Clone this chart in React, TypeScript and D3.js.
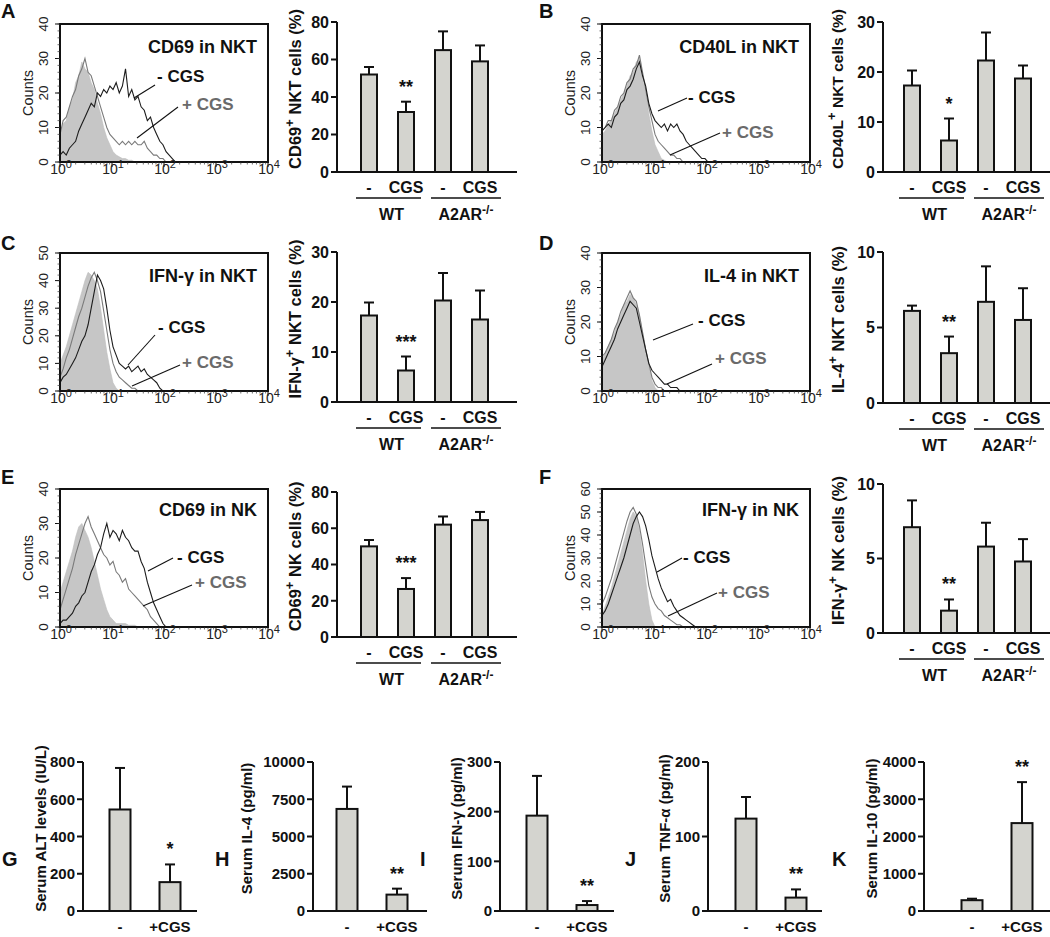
import React from 'react';
import * as d3 from 'd3';

const FONT = "'Liberation Sans', Arial, Helvetica, sans-serif";
const BAR_FILL = '#d4d4cf';
const ISO_FILL = '#c6c6c6';
const POS_COLOR = '#7a7a7a';
const POS_TEXT = '#6a6a6a';

// ---------------- Flow histograms: counts per channel; channel i sits at 10^(i*step) ----------------
const channelStepLog = 0.06;

const cd69NktIso = [8, 11, 12, 16, 18, 23, 25, 29, 27, 26, 23, 21, 17, 14, 10, 7, 5, 3, 2, 1.5, 1, 1, 0.5, 0.5, 0];
const cd69NktNeg = [2, 3, 2, 4, 5, 6, 9, 11, 13, 15, 17, 16, 20, 19, 21, 20, 22, 21, 23, 20, 22, 27, 19, 21, 18, 19, 16, 15, 12, 13, 10, 8, 6, 5, 3, 2, 1, 0];
const cd69NktPos = [8, 12, 13, 16, 19, 21, 25, 27, 30, 26, 25, 22, 19, 16, 13, 10, 8, 7, 6, 5, 6, 5, 6, 5, 6, 5, 5, 6, 4, 3, 2, 2, 1, 1, 0];

const cd40lNktIso = [8, 9, 11, 12, 14, 16, 18, 20, 22, 25, 26, 29, 30, 24, 20, 14, 9, 5, 3, 1, 0.5, 0];
const cd40lNktNeg = [9, 10, 11, 10, 13, 14, 17, 18, 21, 22, 24, 27, 29, 25, 22, 17, 14, 12, 11, 10, 11, 9, 11, 10, 11, 9, 8, 6, 5, 4, 3, 2, 1, 1, 0];
const cd40lNktPos = [9, 10, 12, 12, 15, 16, 19, 20, 23, 24, 27, 28, 31, 26, 21, 16, 12, 8, 6, 5, 4, 3, 2, 2, 1, 1, 0];

const ifngNktIso = [10, 13, 16, 20, 24, 28, 32, 36, 40, 43, 42, 40, 37, 30, 22, 14, 8, 3, 1, 0];
const ifngNktNeg = [3, 5, 6, 8, 10, 12, 15, 18, 20, 24, 30, 36, 42, 40, 37, 30, 22, 16, 13, 10, 9, 8, 9, 7, 8, 9, 7, 8, 6, 5, 4, 3, 1, 0];
const ifngNktPos = [5, 8, 12, 15, 19, 23, 27, 30, 34, 38, 41, 43, 40, 36, 29, 22, 15, 10, 7, 5, 4, 3, 2, 1, 1, 0];

const il4NktIso = [9, 11, 13, 15, 17, 20, 22, 25, 26, 28, 27, 25, 22, 17, 12, 7, 3, 1, 0];
const il4NktNeg = [7, 9, 11, 13, 15, 18, 20, 22, 24, 26, 25, 24, 20, 16, 12, 8, 6, 5, 4, 3, 2, 2, 1, 1, 1, 0];
const il4NktPos = [10, 11, 13, 15, 18, 20, 23, 25, 27, 29, 27, 26, 22, 17, 12, 8, 4, 2, 1, 1, 0];

const cd69NkIso = [10, 13, 16, 19, 22, 26, 29, 30, 28, 26, 23, 19, 15, 11, 8, 5, 3, 2, 1, 1, 1, 1, 0.5, 0.5, 0.5, 0];
const cd69NkNeg = [1, 2, 2, 3, 4, 6, 7, 9, 10, 13, 16, 18, 21, 23, 27, 30, 26, 28, 27, 25, 28, 26, 25, 23, 22, 22, 19, 17, 13, 10, 7, 5, 3, 1, 0];
const cd69NkPos = [5, 8, 11, 14, 17, 21, 24, 27, 30, 32, 29, 27, 25, 23, 21, 20, 18, 19, 16, 15, 13, 14, 11, 10, 9, 8, 7, 6, 5, 3, 2, 1, 0];

const ifngNkIso = [5, 9, 13, 17, 22, 27, 32, 37, 42, 47, 50, 48, 42, 32, 20, 10, 3, 0];
const ifngNkNeg = [5, 7, 10, 14, 18, 22, 26, 30, 35, 40, 45, 48, 50, 48, 44, 38, 31, 26, 21, 17, 14, 11, 12, 9, 7, 5, 4, 3, 2, 1, 0];
const ifngNkPos = [10, 13, 17, 21, 26, 31, 36, 41, 46, 50, 52, 49, 44, 36, 27, 18, 13, 10, 8, 7, 5, 4, 3, 2, 1, 1, 0];

const countTicks40 = [0, 10, 20, 30, 40];
const countTicks50 = [0, 10, 20, 30, 40, 50];
const countTicks60 = [0, 10, 20, 30, 40, 50, 60];
const decadeExponents = [0, 1, 2, 3, 4];

// ---------------- Grouped bars (WT / A2AR-/-) ----------------
const groupCats = ['WT -', 'WT CGS', 'KO -', 'KO CGS'];
const groupTickLabels = ['-', 'CGS', '-', 'CGS'];

const cd69NktMean = [52, 32, 65, 59];
const cd69NktSem = [4, 5.5, 10, 8.5];
const cd40lNktMean = [17.3, 6.3, 22.3, 18.7];
const cd40lNktSem = [3.0, 4.4, 5.6, 2.6];
const ifngNktMean = [17.3, 6.3, 20.3, 16.5];
const ifngNktSem = [2.6, 2.8, 5.5, 5.8];
const il4NktMean = [6.1, 3.3, 6.7, 5.5];
const il4NktSem = [0.35, 1.1, 2.35, 2.1];
const cd69NkMean = [50, 26.5, 62, 64.5];
const cd69NkSem = [3.5, 6, 4.5, 4.5];
const ifngNkMean = [7.1, 1.5, 5.8, 4.8];
const ifngNkSem = [1.8, 0.75, 1.6, 1.5];

const ticks0to80 = [0, 20, 40, 60, 80];
const ticks0to30 = [0, 10, 20, 30];
const ticks0to10 = [0, 5, 10];

// ---------------- Serum bars ----------------
const serumCats = ['-', '+CGS'];
const altMean = [545, 155];
const altSem = [223, 95];
const il4Mean = [6850, 1100];
const il4Sem = [1500, 400];
const ifngMean = [192, 12];
const ifngSem = [80, 8];
const tnfMean = [124, 18];
const tnfSem = [29, 11];
const il10Mean = [290, 2360];
const il10Sem = [40, 1100];

const altTicks = [0, 200, 400, 600, 800];
const il4Ticks = [0, 2500, 5000, 7500, 10000];
const ifngTicks = [0, 100, 200, 300];
const tnfTicks = [0, 100, 200];
const il10Ticks = [0, 1000, 2000, 3000, 4000];

// ---------------- Components ----------------
type Lab = { nt: [number, number]; nl: [number, number, number, number]; pt: [number, number]; pl: [number, number, number, number] };

function FlowHist(props: {
  x0: number; x1: number; y0: number; y1: number; yMax: number; yTicks: number[];
  iso: number[]; neg: number[]; pos: number[]; title: string; titleDy?: number; lab: Lab;
}) {
  const { x0, x1, y0, y1, yMax, yTicks, iso, neg, pos, title, lab } = props;
  const x = d3.scaleLog().domain([1, 1e4]).range([x0, x1]);
  const y = d3.scaleLinear().domain([0, yMax]).range([y1, y0]);
  const toPts = (arr: number[]) => arr.map((v, i) => [Math.pow(10, i * channelStepLog), v] as [number, number]);
  const line = d3.line<[number, number]>().x(d => x(d[0])).y(d => y(d[1]));
  const area = d3.area<[number, number]>().x(d => x(d[0])).y0(y(0)).y1(d => y(d[1]));
  const minor = x.ticks().filter(t => Math.abs(Math.log10(t) - Math.round(Math.log10(t))) > 1e-6);
  const minorY = d3.range(0, yMax + 0.001, 2);
  const clipId = `clip-${Math.round(x0)}-${Math.round(y0)}`;
  return (
    <g>
      <defs>
        <clipPath id={clipId}><rect x={x0} y={y0} width={x1 - x0} height={y1 - y0} /></clipPath>
      </defs>
      <g clipPath={`url(#${clipId})`}>
        <path d={area(toPts(iso)) || ''} fill={ISO_FILL} stroke="#bdbdbd" strokeWidth={0.6} />
        <path d={line(toPts(pos)) || ''} fill="none" stroke={POS_COLOR} strokeWidth={1.1} />
        <path d={line(toPts(neg)) || ''} fill="none" stroke="#1c1c1c" strokeWidth={1.1} />
      </g>
      <rect x={x0} y={y0} width={x1 - x0} height={y1 - y0} fill="none" stroke="#111" strokeWidth={2} />
      {yTicks.map(t => (
        <g key={t}>
          <line x1={x0 - 5} x2={x0} y1={y(t)} y2={y(t)} stroke="#111" strokeWidth={1} />
          <text transform={`translate(${x0 - 12},${y(t)}) rotate(-90)`} textAnchor="middle" fontSize={13.5} fill="#222">{t}</text>
        </g>
      ))}
      {minorY.map(t => (
        <line key={'m' + t} x1={x0 - 2.5} x2={x0} y1={y(t)} y2={y(t)} stroke="#333" strokeWidth={0.7} />
      ))}
      <text transform={`translate(${x0 - 27},${(y0 + y1) / 2}) rotate(-90)`} textAnchor="middle" fontSize={14.5} fill="#222">Counts</text>
      {decadeExponents.map(e => (
        <g key={e}>
          <line x1={x(Math.pow(10, e))} x2={x(Math.pow(10, e))} y1={y1} y2={y1 + 5} stroke="#111" strokeWidth={1} />
          <text x={x(Math.pow(10, e)) + 1} y={y1 + 12} textAnchor="middle" fontSize={14} fill="#222">
            10<tspan dy={-6} fontSize={11}>{e}</tspan>
          </text>
        </g>
      ))}
      {minor.map((t, i) => (
        <line key={'n' + i} x1={x(t)} x2={x(t)} y1={y1} y2={y1 + 2.5} stroke="#333" strokeWidth={0.7} />
      ))}
      <text x={x1 - 11} y={y0 + (props.titleDy ?? 29)} textAnchor="end" fontSize={18} fontWeight="bold" fill="#111">{title}</text>
      <line x1={x0 + lab.nl[0]} y1={y0 + lab.nl[1]} x2={x0 + lab.nl[2]} y2={y0 + lab.nl[3]} stroke="#111" strokeWidth={1.1} />
      <text x={x0 + lab.nt[0]} y={y0 + lab.nt[1]} fontSize={17} fontWeight="bold" fill="#111">- CGS</text>
      <line x1={x0 + lab.pl[0]} y1={y0 + lab.pl[1]} x2={x0 + lab.pl[2]} y2={y0 + lab.pl[3]} stroke="#111" strokeWidth={1.1} />
      <text x={x0 + lab.pt[0]} y={y0 + lab.pt[1]} fontSize={17} fontWeight="bold" fill={POS_TEXT}>+ CGS</text>
    </g>
  );
}

type BarLayout = { axisX: number; endX: number; yTop: number; yBot: number; first: number; step: number; barW: number; labelX: number };

function Bars(props: {
  L: BarLayout; cats: string[]; tickLabels: string[]; means: number[]; sems: number[];
  ticks: number[]; stars: string; starIdx: number; label: React.ReactNode; groups?: boolean; labelFs?: number;
}) {
  const { L, cats, tickLabels, means, sems, ticks, stars, starIdx, label, groups } = props;
  const x = d3.scalePoint<string>().domain(cats).range([L.first, L.first + L.step * (cats.length - 1)]);
  const y = d3.scaleLinear().domain([0, ticks[ticks.length - 1]]).range([L.yBot, L.yTop]);
  const cap = 5;
  const sx = x(cats[starIdx]) as number;
  const tickFs = groups ? 16 : 15;
  return (
    <g>
      {cats.map((c, i) => {
        const cx = x(c) as number;
        const top = y(means[i]);
        const et = y(means[i] + sems[i]);
        return (
          <g key={c}>
            <line x1={cx} x2={cx} y1={top} y2={et} stroke="#111" strokeWidth={2} />
            <line x1={cx - cap} x2={cx + cap} y1={et} y2={et} stroke="#111" strokeWidth={2} />
            <rect x={cx - L.barW / 2} y={top} width={L.barW} height={y(0) - top} fill={BAR_FILL} stroke="#111" strokeWidth={2} />
          </g>
        );
      })}
      <line x1={L.axisX} x2={L.axisX} y1={L.yTop} y2={L.yBot} stroke="#111" strokeWidth={2} />
      <line x1={L.axisX - 1} x2={L.endX} y1={L.yBot} y2={L.yBot} stroke="#111" strokeWidth={2} />
      {ticks.map(t => (
        <g key={t}>
          <line x1={L.axisX - 6} x2={L.axisX} y1={y(t)} y2={y(t)} stroke="#111" strokeWidth={2} />
          <text x={L.axisX - 8} y={y(t)} dy="0.36em" textAnchor="end" fontSize={tickFs} fontWeight="bold" fill="#111">{t}</text>
        </g>
      ))}
      <text x={sx} y={y(means[starIdx] + sems[starIdx]) - 9} textAnchor="middle" fontSize={18} fontWeight="bold" fill="#111">{stars}</text>
      {cats.map((c, i) => (
        <text key={'l' + c} x={x(c) as number} y={L.yBot + 21} textAnchor="middle" fontSize={groups ? 16 : 15} fontWeight="bold" fill="#111">{tickLabels[i]}</text>
      ))}
      {groups && (() => {
        const b = cats.map(c => x(c) as number);
        const wt = [b[0] - 13, b[1] + 15];
        const ko = [b[2] - 12, b[3] + 21];
        return (
          <g>
            <line x1={wt[0]} x2={wt[1]} y1={L.yBot + 26} y2={L.yBot + 26} stroke="#111" strokeWidth={1.5} />
            <line x1={ko[0]} x2={ko[1]} y1={L.yBot + 26} y2={L.yBot + 26} stroke="#111" strokeWidth={1.5} />
            <text x={(wt[0] + wt[1]) / 2 + 3} y={L.yBot + 48} textAnchor="middle" fontSize={16} fontWeight="bold" fill="#111">WT</text>
            <text x={(ko[0] + ko[1]) / 2} y={L.yBot + 48} textAnchor="middle" fontSize={16} fontWeight="bold" fill="#111">
              A2AR<tspan dy={-6} fontSize={12}>-/-</tspan>
            </text>
          </g>
        );
      })()}
      <text transform={`translate(${L.labelX},${(L.yTop + L.yBot) / 2 - 8}) rotate(-90)`} textAnchor="middle" dy="0.35em"
        fontSize={props.labelFs ?? (groups ? 16.5 : 15)} fontWeight="bold" fill="#111">{label}</text>
    </g>
  );
}

const sup = (s: string) => (<><tspan dy={-7} fontSize={13}>{s}</tspan><tspan dy={7}> </tspan></>);

function Letter({ x, y, t }: { x: number; y: number; t: string }) {
  return <text x={x} y={y} fontSize={20} fontWeight="bold" fill="#111">{t}</text>;
}

export default function App() {
  const histL = { x0: 60, x1: 268 };
  const histR = { x0: 602, x1: 810 };
  const rows = [
    { hy0: 24, hy1: 162, ly: 18 },
    { hy0: 253, hy1: 391, ly: 250 },
    { hy0: 489, hy1: 627, ly: 484 },
  ];
  const barBox = {
    A: [22, 172], B: [22, 172], C: [252, 402], D: [252, 403], E: [492, 637], F: [484, 633],
  } as Record<string, number[]>;
  const barL = (k: string): BarLayout => ({ axisX: 337, endX: 517, yTop: barBox[k][0], yBot: barBox[k][1], first: 369, step: 37, barW: 16, labelX: 295 });
  const barR = (k: string): BarLayout => ({ axisX: 883, endX: 1050, yTop: barBox[k][0], yBot: barBox[k][1], first: 912, step: 37, barW: 16, labelX: 838 });
  const serum = (axisX: number, labelX: number, firstOff: number, endX?: number): BarLayout => ({ axisX, endX: endX ?? axisX + 114, yTop: 762, yBot: 911, first: axisX + firstOff, step: 50, barW: 21, labelX });

  return (
    <div>
      <style>{'body{margin:0;}'}</style>
      <svg width={1050} height={937} style={{ display: 'block', fontFamily: FONT, background: '#fff' }}>
        {/* Row 1 */}
        <Letter x={1} y={rows[0].ly} t="A" />
        <Letter x={539} y={rows[0].ly} t="B" />
        <FlowHist {...histL} y0={rows[0].hy0} y1={rows[0].hy1} yMax={40} yTicks={countTicks40}
          iso={cd69NktIso} neg={cd69NktNeg} pos={cd69NktPos} title="CD69 in NKT"
          lab={{ nt: [97, 58], nl: [74, 74, 95, 61], pt: [122, 86], pl: [77, 114, 118, 83] }} />
        <Bars L={barL('A')} cats={groupCats} tickLabels={groupTickLabels} means={cd69NktMean} sems={cd69NktSem}
          ticks={ticks0to80} stars="**" starIdx={1} groups label={<>CD69{sup('+')}NKT cells (%)</>} />
        <FlowHist {...histR} y0={rows[0].hy0} y1={rows[0].hy1} yMax={40} yTicks={countTicks40}
          iso={cd40lNktIso} neg={cd40lNktNeg} pos={cd40lNktPos} title="CD40L in NKT"
          lab={{ nt: [86, 79], nl: [56, 87, 85, 74], pt: [120, 114], pl: [68, 131, 118, 109] }} />
        <Bars L={barR('B')} cats={groupCats} tickLabels={groupTickLabels} means={cd40lNktMean} sems={cd40lNktSem}
          ticks={ticks0to30} stars="*" starIdx={1} groups labelFs={15.5} label={<>CD40L{sup('+')}NKT cells (%)</>} />

        {/* Row 2 */}
        <Letter x={1} y={rows[1].ly} t="C" />
        <Letter x={539} y={rows[1].ly} t="D" />
        <FlowHist {...histL} y0={rows[1].hy0} y1={rows[1].hy1} yMax={50} yTicks={countTicks50}
          iso={ifngNktIso} neg={ifngNktNeg} pos={ifngNktPos} title="IFN-γ in NKT"
          lab={{ nt: [98, 80], nl: [68, 112, 95, 82], pt: [122, 115], pl: [72, 133, 120, 112] }} />
        <Bars L={barL('C')} cats={groupCats} tickLabels={groupTickLabels} means={ifngNktMean} sems={ifngNktSem}
          ticks={ticks0to30} stars="***" starIdx={1} groups label={<>IFN-γ{sup('+')}NKT cells (%)</>} />
        <FlowHist {...histR} y0={rows[1].hy0} y1={rows[1].hy1} yMax={40} yTicks={countTicks40}
          iso={il4NktIso} neg={il4NktNeg} pos={il4NktPos} title="IL-4 in NKT"
          lab={{ nt: [96, 73], nl: [51, 87, 91, 71], pt: [113, 111], pl: [65, 131, 110, 111] }} />
        <Bars L={barR('D')} cats={groupCats} tickLabels={groupTickLabels} means={il4NktMean} sems={il4NktSem}
          ticks={ticks0to10} stars="**" starIdx={1} groups label={<>IL-4{sup('+')}NKT cells (%)</>} />

        {/* Row 3 */}
        <Letter x={1} y={rows[2].ly} t="E" />
        <Letter x={539} y={rows[2].ly} t="F" />
        <FlowHist {...histL} y0={rows[2].hy0} y1={rows[2].hy1} yMax={40} yTicks={countTicks40}
          iso={cd69NkIso} neg={cd69NkNeg} pos={cd69NkPos} title="CD69 in NK" titleDy={27}
          lab={{ nt: [117, 74], nl: [88, 82, 113, 69], pt: [135, 99], pl: [83, 117, 132, 96] }} />
        <Bars L={barL('E')} cats={groupCats} tickLabels={groupTickLabels} means={cd69NkMean} sems={cd69NkSem}
          ticks={ticks0to80} stars="***" starIdx={1} groups label={<>CD69{sup('+')}NK cells (%)</>} />
        <FlowHist {...histR} y0={rows[2].hy0} y1={rows[2].hy1} yMax={60} yTicks={countTicks60}
          iso={ifngNkIso} neg={ifngNkNeg} pos={ifngNkPos} title="IFN-γ in NK" titleDy={27}
          lab={{ nt: [81, 74], nl: [55, 83, 80, 69], pt: [116, 109], pl: [66, 127, 115, 104] }} />
        <Bars L={barR('F')} cats={groupCats} tickLabels={groupTickLabels} means={ifngNkMean} sems={ifngNkSem}
          ticks={ticks0to10} stars="**" starIdx={1} groups label={<>IFN-γ{sup('+')}NK cells (%)</>} />

        {/* Row 4 */}
        <Letter x={2} y={866} t="G" />
        <Letter x={215} y={866} t="H" />
        <Letter x={420} y={866} t="I" />
        <Letter x={625} y={866} t="J" />
        <Letter x={832} y={866} t="K" />
        <Bars L={serum(83, 41, 37)} cats={serumCats} tickLabels={serumCats} means={altMean} sems={altSem}
          ticks={altTicks} stars="*" starIdx={1} label="Serum ALT levels (IU/L)" />
        <Bars L={serum(313, 247, 34)} cats={serumCats} tickLabels={serumCats} means={il4Mean} sems={il4Sem}
          ticks={il4Ticks} stars="**" starIdx={1} label="Serum IL-4 (pg/ml)" />
        <Bars L={serum(500, 457, 37)} cats={serumCats} tickLabels={serumCats} means={ifngMean} sems={ifngSem}
          ticks={ifngTicks} stars="**" starIdx={1} label="Serum IFN-γ (pg/ml)" />
        <Bars L={serum(708, 665, 38)} cats={serumCats} tickLabels={serumCats} means={tnfMean} sems={tnfSem}
          ticks={tnfTicks} stars="**" starIdx={1} label="Serum TNF-α (pg/ml)" />
        <Bars L={serum(924, 872, 48, 1050)} cats={serumCats} tickLabels={serumCats} means={il10Mean} sems={il10Sem}
          ticks={il10Ticks} stars="**" starIdx={1} label="Serum IL-10 (pg/ml)" />
      </svg>
    </div>
  );
}
